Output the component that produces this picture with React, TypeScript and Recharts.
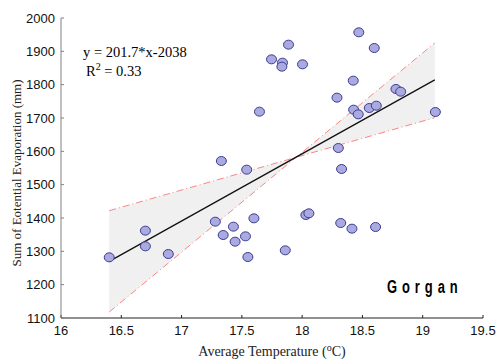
import React from "react";
import {
  ComposedChart,
  Area,
  Line,
  Scatter,
  XAxis,
  YAxis,
} from "recharts";

// observations: mean temperature (°C) vs. summed potential evaporation (mm)
const tempValues = [
  16.4, 16.7, 16.7, 16.89, 17.28, 17.345, 17.33, 17.43, 17.444, 17.53,
  17.55, 17.54, 17.6, 17.646, 17.746, 17.837, 17.832, 17.887, 17.86, 18.003,
  18.031, 18.056, 18.289, 18.3, 18.32, 18.327, 18.413, 18.424, 18.427, 18.465,
  18.47, 18.557, 18.598, 18.609, 18.615, 18.778, 18.817, 19.105,
];
const evapValues = [
  1282, 1362, 1315, 1292, 1389, 1349, 1571, 1374, 1329, 1345,
  1283, 1545, 1399, 1719, 1876, 1866, 1854, 1920, 1303, 1861,
  1409, 1414, 1761, 1610, 1385, 1547, 1368, 1812, 1725, 1711,
  1957, 1730, 1910, 1373, 1737, 1787, 1779, 1718,
];

// regression y = 201.7*x - 2038 and its confidence lines
const slope = 201.7;
const intercept = -2038;
const bandX = [16.4, 17.95, 19.1];
const steepBound = [1118, 1582, 1925];
const flatBound = [1422, 1582, 1701];

const xTicks = [16, 16.5, 17, 17.5, 18, 18.5, 19, 19.5];
const yTicks = [1100, 1200, 1300, 1400, 1500, 1600, 1700, 1800, 1900, 2000];

const points = tempValues.map((x, i) => ({ x, y: evapValues[i] }));
const bandRows = bandX.map((x, i) => ({
  x,
  fit: slope * x + intercept,
  steep: steepBound[i],
  flat: flatBound[i],
  band: [Math.min(steepBound[i], flatBound[i]), Math.max(steepBound[i], flatBound[i])],
}));

const W = 496;
const H = 359;

const Dot = (props: any) => {
  const { cx, cy } = props;
  if (cx == null || cy == null) return null;
  return <ellipse cx={cx} cy={cy} rx={5} ry={4.5} fill="#aaaae0" stroke="#3c3c92" strokeWidth={1} />;
};

const tickFont = { fontFamily: "'Liberation Sans', Arial, sans-serif", fontSize: 13, fill: "#111" };
const serif = "'Liberation Serif', 'Times New Roman', serif";

export default function App() {
  return (
    <div style={{ position: "absolute", left: 0, top: 0, width: W, height: H, background: "#fff" }}>
      <ComposedChart
        width={W}
        height={H}
        data={bandRows}
        margin={{ top: 18, right: 13, left: 0, bottom: 0 }}
      >
        <XAxis
          dataKey="x"
          type="number"
          domain={[16, 19.5]}
          ticks={xTicks}
          height={41}
          tick={tickFont}
          tickSize={-3}
          tickMargin={11}
          axisLine={{ stroke: "#222" }}
          tickLine={{ stroke: "#222" }}
          allowDataOverflow
        />
        <YAxis
          dataKey="y"
          type="number"
          domain={[1100, 2000]}
          ticks={yTicks}
          width={61}
          tick={tickFont}
          tickSize={-3}
          tickMargin={9}
          axisLine={{ stroke: "#808080" }}
          tickLine={{ stroke: "#808080" }}
          allowDataOverflow
        />
        <Area
          dataKey="band"
          type="linear"
          fill="#f0f0f0"
          fillOpacity={1}
          stroke="none"
          isAnimationActive={false}
        />
        <Line
          dataKey="steep"
          type="linear"
          stroke="#ff4a4a"
          strokeOpacity={0.75}
          strokeWidth={0.9}
          strokeDasharray="7 3 1 3"
          dot={false}
          isAnimationActive={false}
        />
        <Line
          dataKey="flat"
          type="linear"
          stroke="#ff4a4a"
          strokeOpacity={0.75}
          strokeWidth={0.9}
          strokeDasharray="7 3 1 3"
          dot={false}
          isAnimationActive={false}
        />
        <Line
          dataKey="fit"
          type="linear"
          stroke="#111"
          strokeWidth={1.3}
          dot={false}
          isAnimationActive={false}
        />
        <Scatter data={points} dataKey="y" shape={<Dot />} isAnimationActive={false} />
      </ComposedChart>

      {/* annotations and axis titles */}
      <svg
        width={W}
        height={H}
        style={{ position: "absolute", left: 0, top: 0, pointerEvents: "none" }}
      >
        <text x={83} y={57} fontFamily={serif} fontSize={14.5} fill="#000">
          y = 201.7*x-2038
        </text>
        <text x={86} y={76} fontFamily={serif} fontSize={14.5} fill="#000">
          R
          <tspan dy={-6} fontSize={10}>2</tspan>
          <tspan dy={6}> = 0.33</tspan>
        </text>
        <text
          transform="translate(387,293) scale(0.7,1)"
          fontFamily="'Liberation Sans', Arial, sans-serif"
          fontWeight="bold"
          fontSize={18.5}
          textLength={101}
          lengthAdjust="spacing"
          fill="#000"
        >
          Gorgan
        </text>
        <text
          transform="translate(21,173) rotate(-90)"
          textAnchor="middle"
          fontFamily={serif}
          fontSize={13}
          fill="#222"
        >
          Sum of Eotential Evaporation (mm)
        </text>
        <text x={272} y={356} textAnchor="middle" fontFamily={serif} fontSize={14} fill="#222">
          Average Temperature (
          <tspan dy={-5} fontSize={10}>o</tspan>
          <tspan dy={5}>C)</tspan>
        </text>
      </svg>
    </div>
  );
}
